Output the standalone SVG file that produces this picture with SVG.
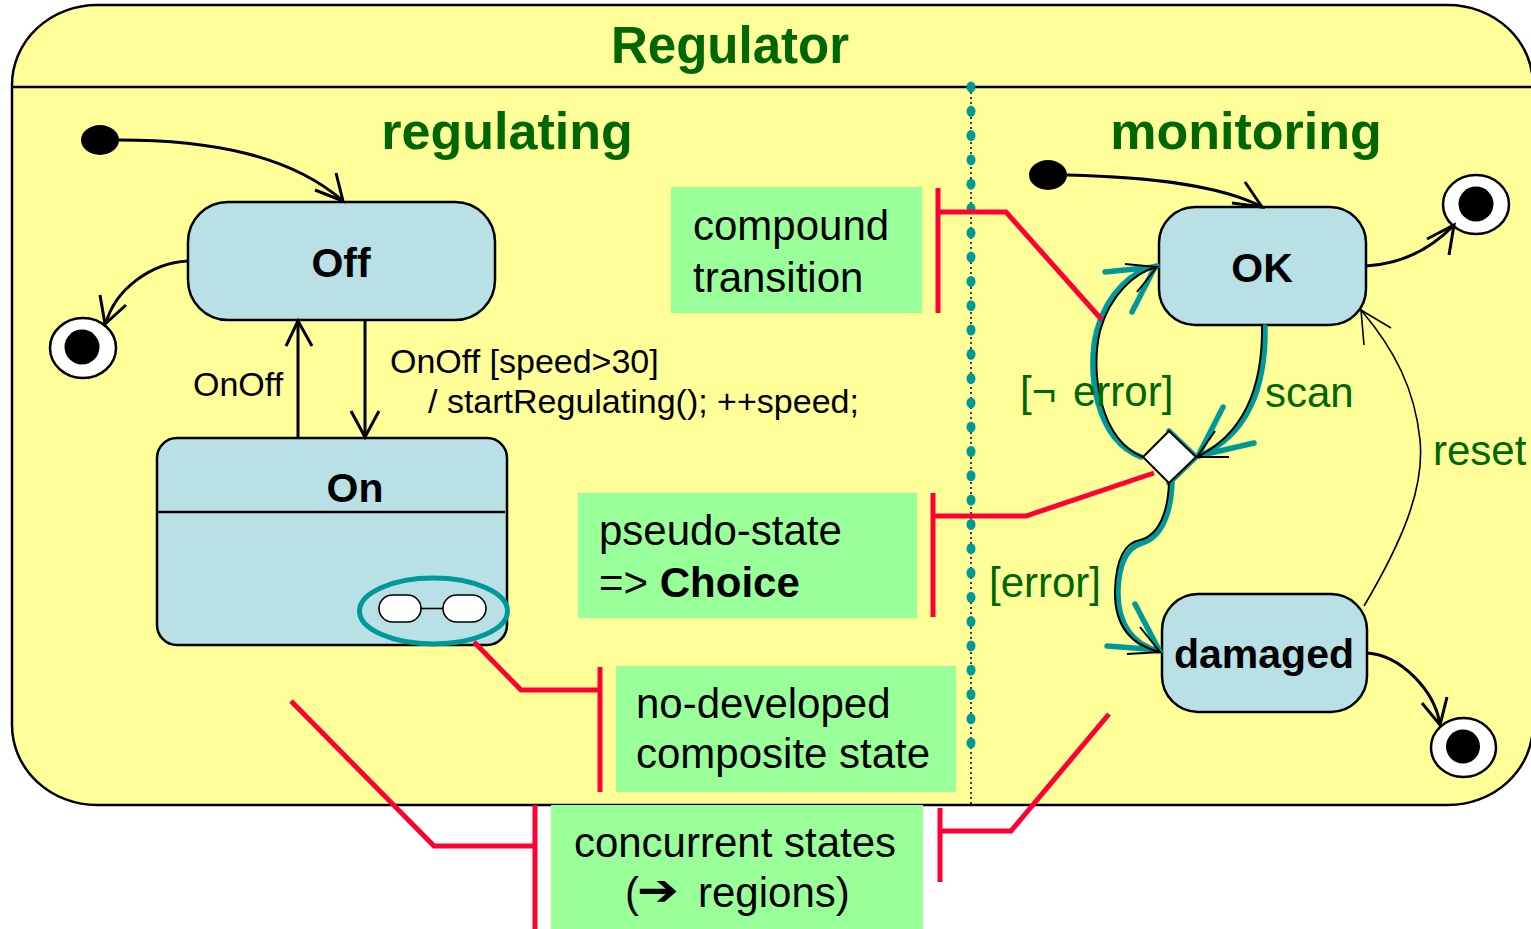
<svg xmlns="http://www.w3.org/2000/svg" width="1531" height="929" viewBox="0 0 1531 929">
  <style>
    .title { font-family: "Liberation Sans", Arial, sans-serif; font-weight: bold; fill: #006600; }
    .state { fill: #B9E0E4; stroke: #000; stroke-width: 2.5; }
    .sname { font-family: "Liberation Sans", Arial, sans-serif; font-weight: bold; font-size: 41px; fill: #000; text-anchor: middle; }
    .lbl { font-family: "Liberation Sans", Arial, sans-serif; font-size: 34px; fill: #000; }
    .glbl { font-family: "Liberation Sans", Arial, sans-serif; font-size: 42px; fill: #006600; }
    .note { fill: #99FF99; }
    .ntext { font-family: "Liberation Sans", Arial, sans-serif; font-size: 42px; fill: #000; }
    .red { fill: none; stroke: #FF0033; stroke-width: 5; }
    .tr { fill: none; stroke: #000; stroke-width: 3; }
    .thin { fill: none; stroke: #000; stroke-width: 1.6; }
    .teal { fill: none; stroke: #009999; stroke-width: 5.5; stroke-linecap: round; }
    .tblk { fill: none; stroke: #000; stroke-width: 2; }
    .dot { fill: #009999; }
  </style>

  <!-- Regulator composite state -->
  <g id="regulator">
    <rect x="12" y="5" width="1521" height="800" rx="85" ry="80" fill="#FFFF99" stroke="#000" stroke-width="2.5"/>
    <line x1="12" y1="87" x2="1533" y2="87" stroke="#000" stroke-width="2.5"/>
    <text class="title" x="730" y="63" font-size="51" text-anchor="middle">Regulator</text>
  </g>

  <!-- region separator -->
  <g id="region-separator">
    <line x1="971" y1="87" x2="971" y2="805" stroke="#000" stroke-width="1.5" stroke-dasharray="2,3"/>
    <g class="dot">
      <ellipse cx="971" cy="87" rx="4.5" ry="5.5"/>
      <ellipse cx="971" cy="111.3" rx="4.5" ry="5.5"/>
      <ellipse cx="971" cy="135.6" rx="4.5" ry="5.5"/>
      <ellipse cx="971" cy="159.9" rx="4.5" ry="5.5"/>
      <ellipse cx="971" cy="184.2" rx="4.5" ry="5.5"/>
      <ellipse cx="971" cy="208.5" rx="4.5" ry="5.5"/>
      <ellipse cx="971" cy="232.8" rx="4.5" ry="5.5"/>
      <ellipse cx="971" cy="257.1" rx="4.5" ry="5.5"/>
      <ellipse cx="971" cy="281.4" rx="4.5" ry="5.5"/>
      <ellipse cx="971" cy="305.7" rx="4.5" ry="5.5"/>
      <ellipse cx="971" cy="330" rx="4.5" ry="5.5"/>
      <ellipse cx="971" cy="354.3" rx="4.5" ry="5.5"/>
      <ellipse cx="971" cy="378.6" rx="4.5" ry="5.5"/>
      <ellipse cx="971" cy="402.9" rx="4.5" ry="5.5"/>
      <ellipse cx="971" cy="427.2" rx="4.5" ry="5.5"/>
      <ellipse cx="971" cy="451.5" rx="4.5" ry="5.5"/>
      <ellipse cx="971" cy="475.8" rx="4.5" ry="5.5"/>
      <ellipse cx="971" cy="500.1" rx="4.5" ry="5.5"/>
      <ellipse cx="971" cy="524.4" rx="4.5" ry="5.5"/>
      <ellipse cx="971" cy="548.7" rx="4.5" ry="5.5"/>
      <ellipse cx="971" cy="573" rx="4.5" ry="5.5"/>
      <ellipse cx="971" cy="597.3" rx="4.5" ry="5.5"/>
      <ellipse cx="971" cy="621.6" rx="4.5" ry="5.5"/>
      <ellipse cx="971" cy="645.9" rx="4.5" ry="5.5"/>
      <ellipse cx="971" cy="670.2" rx="4.5" ry="5.5"/>
      <ellipse cx="971" cy="694.5" rx="4.5" ry="5.5"/>
      <ellipse cx="971" cy="718.8" rx="4.5" ry="5.5"/>
      <ellipse cx="971" cy="743.1" rx="4.5" ry="5.5"/>
    </g>
  </g>

  <text class="title" x="507" y="149" font-size="52" text-anchor="middle">regulating</text>
  <text class="title" x="1246" y="149" font-size="52" text-anchor="middle">monitoring</text>

  <!-- regulating region nodes -->
  <g id="reg-initial">
    <ellipse cx="100" cy="140" rx="19" ry="15" fill="#000"/>
  </g>
  <g id="reg-final">
    <ellipse cx="83" cy="348" rx="33" ry="30" fill="#fff" stroke="#000" stroke-width="2.5"/>
    <circle cx="82" cy="347" r="17.5" fill="#000"/>
  </g>
  <g id="state-off">
    <rect class="state" x="188" y="202" width="307" height="118" rx="40" ry="40"/>
    <text class="sname" x="341" y="277">Off</text>
  </g>
  <g id="state-on">
    <rect class="state" x="157" y="438" width="350" height="207" rx="20" ry="20"/>
    <line x1="157" y1="512" x2="505" y2="512" stroke="#000" stroke-width="2.5"/>
    <text class="sname" x="355" y="502">On</text>
    <ellipse cx="433.5" cy="611" rx="74" ry="33" fill="none" stroke="#009999" stroke-width="5"/>
    <rect x="379" y="595" width="42" height="27" rx="13.5" fill="#fff" stroke="#000" stroke-width="1.6"/>
    <rect x="443" y="595" width="43" height="27" rx="13.5" fill="#fff" stroke="#000" stroke-width="1.6"/>
    <line x1="421" y1="608.5" x2="443" y2="608.5" stroke="#000" stroke-width="1.6"/>
  </g>

  <!-- monitoring region nodes -->
  <g id="mon-initial">
    <ellipse cx="1048" cy="175" rx="19" ry="15" fill="#000"/>
  </g>
  <g id="mon-final-ok">
    <ellipse cx="1476" cy="204.5" rx="33" ry="29.5" fill="#fff" stroke="#000" stroke-width="2.5"/>
    <circle cx="1476" cy="204" r="17.5" fill="#000"/>
  </g>
  <g id="mon-final-damaged">
    <ellipse cx="1463.5" cy="747.5" rx="32.5" ry="29.5" fill="#fff" stroke="#000" stroke-width="2.5"/>
    <circle cx="1463" cy="746.5" r="17" fill="#000"/>
  </g>
  <g id="state-ok">
    <rect class="state" x="1159" y="207" width="207" height="118" rx="36" ry="36"/>
    <text class="sname" x="1262" y="282">OK</text>
  </g>
  <g id="state-damaged">
    <rect class="state" x="1162" y="594" width="205" height="118" rx="36" ry="36"/>
    <text class="sname" x="1264" y="668">damaged</text>
  </g>

  <!-- transitions -->
  <g id="connectors">
    <!-- regulating -->
    <path class="tr" d="M119,140 C210,140 290,155 343,201"/>
    <path class="tr" d="M315,190 L343,201 L336,173"/>
    <path class="tr" d="M188,261 C150,263 115,290 106,323"/>
    <path class="tr" d="M100,295 L105,324 L126,305"/>
    <path class="tr" d="M365,320 L365,437"/>
    <path class="tr" d="M351,411 L365,437 L379,411"/>
    <path class="tr" d="M298,437 L298,321"/>
    <path class="tr" d="M286,346 L298,321 L312,346"/>

    <!-- monitoring -->
    <path class="tr" d="M1067,175 C1150,177 1220,185 1262,207"/>
    <path class="tr" d="M1245,182 L1262,207 L1232,203"/>
    <path class="tr" d="M1366,266 C1400,264 1430,250 1454,225"/>
    <path class="tr" d="M1427,239 L1454,225 L1449,255"/>
    <path class="tr" d="M1367,653 C1400,655 1435,690 1440,725"/>
    <path class="tr" d="M1422,703 L1440,725 L1447,697"/>
    <path class="thin" d="M1364,606 C1400,545 1425,490 1420,440 C1415,390 1395,350 1361,310"/>
    <path class="thin" d="M1364,345 L1361,310 L1391,328"/>

    <!-- compound transition highlight -->
    <path class="teal" d="M1265,327 C1266,388 1247,436 1199,456"/>
    <path class="teal" d="M1223,407 L1198,456 L1254,443"/>
    <path class="teal" d="M1141,457 C1096,440 1086,372 1097,330 C1107,293 1133,270 1157,266"/>
    <path class="teal" d="M1105,272 L1155,267 L1132,312"/>
    <path class="teal" d="M1172,483 C1171,510 1163,537 1142,543 C1128,547 1119,562 1118,590 C1117,624 1133,645 1159,651"/>
    <path class="teal" d="M1135,604 L1159,650 L1107,646"/>
    <path class="teal" d="M1169,431 L1196,457 L1169,483"/>

    <path class="tblk" d="M1262,325 C1263,386 1244,434 1197,457"/>
    <path class="tblk" d="M1215,431 L1197,457 L1229,457"/>
    <path class="tblk" d="M1143,457 C1100,440 1090,372 1100,331 C1110,295 1135,272 1157,267"/>
    <path class="tblk" d="M1125,264 L1157,267 L1137,292"/>
    <path class="tblk" d="M1169,483 C1168,510 1160,535 1140,540 C1125,543 1116,560 1115,590 C1114,625 1130,645 1160,652"/>
    <path class="tblk" d="M1140,627 L1160,652 L1127,654"/>
  </g>

  <!-- choice pseudo-state -->
  <g id="choice">
    <polygon points="1169,431 1196,457 1169,483 1143,457" fill="#fff" stroke="#000" stroke-width="2"/>
  </g>

  <!-- transition labels -->
  <g id="labels">
    <text class="lbl" x="193" y="396">OnOff</text>
    <text class="lbl" x="390" y="373">OnOff [speed&gt;30]</text>
    <text class="lbl" x="428" y="413">/ startRegulating(); ++speed;</text>
    <text class="glbl" y="406"><tspan x="1020">[¬</tspan><tspan x="1073">error]</tspan></text>
    <text class="glbl" x="1265" y="407">scan</text>
    <text class="glbl" x="1433" y="465">reset</text>
    <text class="glbl" x="989" y="597">[error]</text>
  </g>

  <!-- annotation notes -->
  <g id="note-compound">
    <rect class="note" x="671" y="187" width="251" height="126"/>
    <text class="ntext" x="693" y="240">compound</text>
    <text class="ntext" x="693" y="292">transition</text>
    <path class="red" d="M938,188 L938,313 M938,212 L1006,212 L1102,320"/>
  </g>
  <g id="note-choice">
    <rect class="note" x="578" y="493" width="339" height="125"/>
    <text class="ntext" x="599" y="545">pseudo-state</text>
    <text class="ntext" x="599" y="597">=&gt; <tspan font-weight="bold">Choice</tspan></text>
    <path class="red" d="M933,493 L933,617 M933,516 L1026,516 L1154,473"/>
  </g>
  <g id="note-composite">
    <rect class="note" x="616" y="666" width="340" height="126"/>
    <text class="ntext" x="636" y="718">no-developed</text>
    <text class="ntext" x="636" y="768">composite state</text>
    <path class="red" d="M600,667 L600,792 M600,690 L521,690 L474,642"/>
  </g>
  <g id="note-regions">
    <rect class="note" x="551" y="805" width="372" height="124"/>
    <text class="ntext" x="735" y="857" text-anchor="middle">concurrent states</text>
    <text class="ntext" y="907"><tspan x="625">(</tspan><tspan x="698">regions)</tspan></text>
    <text transform="translate(637,905) scale(1.25,1.1)" font-family="DejaVu Sans, sans-serif" font-weight="bold" font-size="40" fill="#000">➔</text>
    <path class="red" d="M535,805 L535,929 M535,846 L434,846 L291,701"/>
    <path class="red" d="M940,808 L940,882 M940,831 L1011,831 L1109,714"/>
  </g>
</svg>
